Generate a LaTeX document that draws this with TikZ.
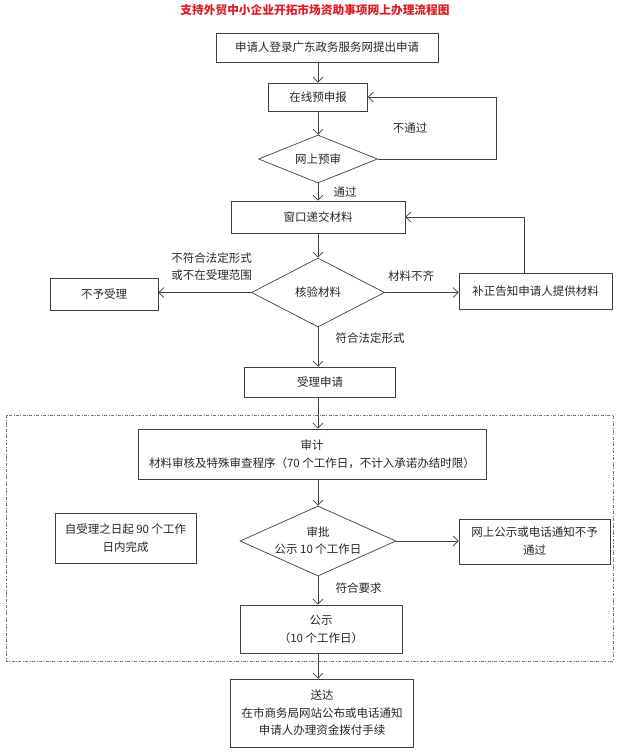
\documentclass[tikz,border=0pt]{standalone}
\usepackage{fontspec}
\setmainfont{Noto Sans CJK SC}
\usepackage{xcolor}
\usetikzlibrary{shapes.geometric,arrows.meta}
\definecolor{titlered}{RGB}{222,30,38}

\begin{document}
\begin{tikzpicture}[x=1pt,y=-1pt,
  font=\fontsize{11.5}{18}\selectfont,
  >={Straight Barb[length=5pt,width=10pt]},
  line width=0.7pt, draw=black!75, text=black!85,
  box/.style={draw,rectangle,inner sep=0pt,align=center},
  dia/.style={draw,diamond,aspect=2.5,inner sep=0pt,align=center}]
  \useasboundingbox (0,0) rectangle (640,753);

  \node[text=titlered,font=\fontsize{11.7}{14}\selectfont\bfseries] (title) at (315,10) {支持外贸中小企业开拓市场资助事项网上办理流程图};

  \node[box,minimum width=222,minimum height=29] (node0) at (327,47.5) {申请人登录广东政务服务网提出申请};
  \node[box,minimum width=99,minimum height=28] (node1) at (318,97) {在线预申报};
  \node[dia,minimum width=119,minimum height=48] (node2) at (318,159) {网上预审};
  \node[box,minimum width=174,minimum height=32] (node3) at (318,217) {窗口递交材料};
  \node[dia,minimum width=133,minimum height=69] (node4) at (318,292.5) {核验材料};
  \node[box,minimum width=108,minimum height=32] (node5) at (104,294) {不予受理};
  \node[box,minimum width=153,minimum height=36] (node6) at (535.5,291) {补正告知申请人提供材料};
  \node[box,minimum width=151,minimum height=30] (node7) at (320,382) {受理申请};
  \node[box,minimum width=348,minimum height=50] (node8) at (312,454) {审计\\材料审核及特殊审查程序（70 个工作日，不计入承诺办结时限）};
  \node[dia,minimum width=156,minimum height=70,inner xsep=-14pt,inner ysep=-4pt,
    font=\fontsize{11.5}{17}\selectfont] (node9) at (318,541) {审批\\公示 10 个工作日};
  \node[box,minimum width=141,minimum height=50] (node10) at (125.5,538) {自受理之日起 90 个工作\\日内完成};
  \node[box,minimum width=151,minimum height=45] (node11) at (534.5,541.5) {网上公示或电话通知不予\\通过};
  \node[box,minimum width=162,minimum height=48] (node12) at (321,629) {公示\\（10 个工作日）};
  \node[box,minimum width=183,minimum height=68,font=\fontsize{11.5}{17.5}\selectfont] (node13) at (322,713) {送达\\在市商务局网站公布或电话通知\\申请人办理资金拨付手续};

  \node (label0) at (410,128) {不通过};
  \node (label1) at (345,192) {通过};
  \node[align=center,font=\fontsize{11.5}{17}\selectfont] (label2) at (211.5,266.5) {不符合法定形式\\或不在受理范围};
  \node (label3) at (411,276) {材料不齐};
  \node (label4) at (370,338) {符合法定形式};
  \node (label5) at (358.5,588) {符合要求};

  \coordinate (turn0) at (496,97);
  \coordinate (turn1) at (524,217);

  \draw[black!55,line width=0.6pt,dash pattern=on 3pt off 1.5pt on 0.8pt off 1.5pt] (6,415) rectangle (613,661);

  \path [->] (node1 |- node0.south) edge (node1);
  \path [->] (node1) edge (node2);
  \path [->] (node2) edge (node3);
  \draw [->] (node2.east) -| (turn0) -- (node1.east);
  \path [->] (node3) edge (node4);
  \path [->] (node4.west) edge (node4.west -| node5.east);
  \path [->] (node4.east) edge (node4.east -| node6.west);
  \draw [->] (turn1 |- node6.north) -- (turn1) -- (node3.east);
  \path [->] (node4) edge (node4 |- node7.north);
  \path [->] (node4 |- node7.south) edge (node4 |- node8.north);
  \path [->] (node9 |- node8.south) edge (node9);
  \path [->] (node9.east) edge (node9.east -| node11.west);
  \path [->] (node9) edge (node9 |- node12.north);
  \path [->] (node9 |- node12.south) edge (node9 |- node13.north);
\end{tikzpicture}
\end{document}
